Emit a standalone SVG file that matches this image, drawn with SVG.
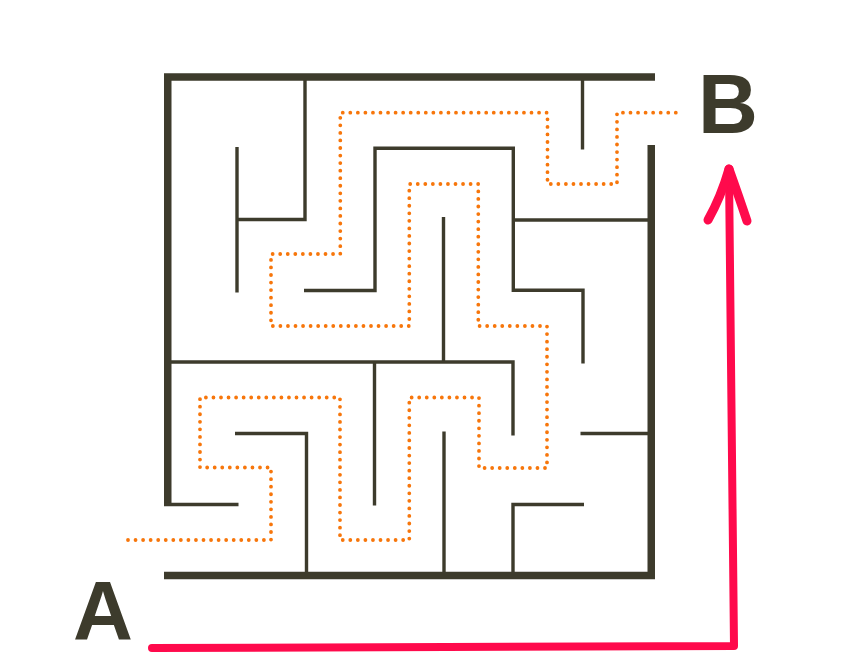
<svg xmlns="http://www.w3.org/2000/svg" width="850" height="670" viewBox="0 0 850 670">
  <style>
    .outer { fill: none; stroke: #3d3b2c; stroke-width: 7.5; stroke-linejoin: miter; stroke-linecap: butt; }
    .wall { fill: none; stroke: #3d3b2c; stroke-width: 3.4; stroke-linejoin: miter; stroke-linecap: butt; }
    .dots { fill: none; stroke: #f7760b; stroke-width: 3.8; stroke-linecap: round; stroke-dasharray: 0 7.55; }
    .red { fill: none; stroke: #ff0a4c; stroke-width: 8; stroke-linecap: round; stroke-linejoin: round; }
    .barb { fill: none; stroke: #ff0a4c; stroke-width: 9; stroke-linecap: round; stroke-linejoin: round; }
    .label { font-family: "Liberation Sans", Arial, sans-serif; font-weight: bold; font-size: 83px; fill: #3d3b2c; text-anchor: middle; }
  </style>
  <rect width="850" height="670" fill="#ffffff"/>
  <g id="maze-walls">
    <path class="outer" d="M167.75,505.7 V77 H655"/>
    <path class="outer" d="M164,575.5 H651.25 V145"/>
    <path class="wall" d="M305,80 V219.5 H237"/>
    <path class="wall" d="M237,147 V292.5"/>
    <path class="wall" d="M304,290.5 H375 V148.2 H513.3 V290.3 H583 V363.5"/>
    <path class="wall" d="M513,220 H648"/>
    <path class="wall" d="M582.5,80 V149.5"/>
    <path class="wall" d="M443.5,217 V362"/>
    <path class="wall" d="M171,362 H513 V435.5"/>
    <path class="wall" d="M374.5,362 V505.5"/>
    <path class="wall" d="M164,504.5 H238.5"/>
    <path class="wall" d="M235,433.5 H306.5 V572"/>
    <path class="wall" d="M444,431.5 V572"/>
    <path class="wall" d="M580.5,433.5 H648"/>
    <path class="wall" d="M584,504.5 H513 V572"/>
  </g>
  <g id="solution-path">
    <path class="dots" d="M128,540 H271 V467.5 H200 V397.5 H340 V540 H409.3 V397.5 H479 V468 H547 V326 H478.3 V184 H409.3 V326 H271 V254 H340.3 V112.7 H547.5 V184 H617 V112.7 H682"/>
  </g>
  <g id="label-A">
    <text class="label" x="103" y="640">A</text>
  </g>
  <g id="label-B">
    <text class="label" x="728" y="132.5">B</text>
  </g>
  <g id="arrow">
    <path class="red" d="M152,648 L734,646 L729,172"/>
    <path class="barb" d="M729,169 Q721,197 708,220"/>
    <path class="barb" d="M729,169 Q739,197 747,221"/>
  </g>
</svg>
